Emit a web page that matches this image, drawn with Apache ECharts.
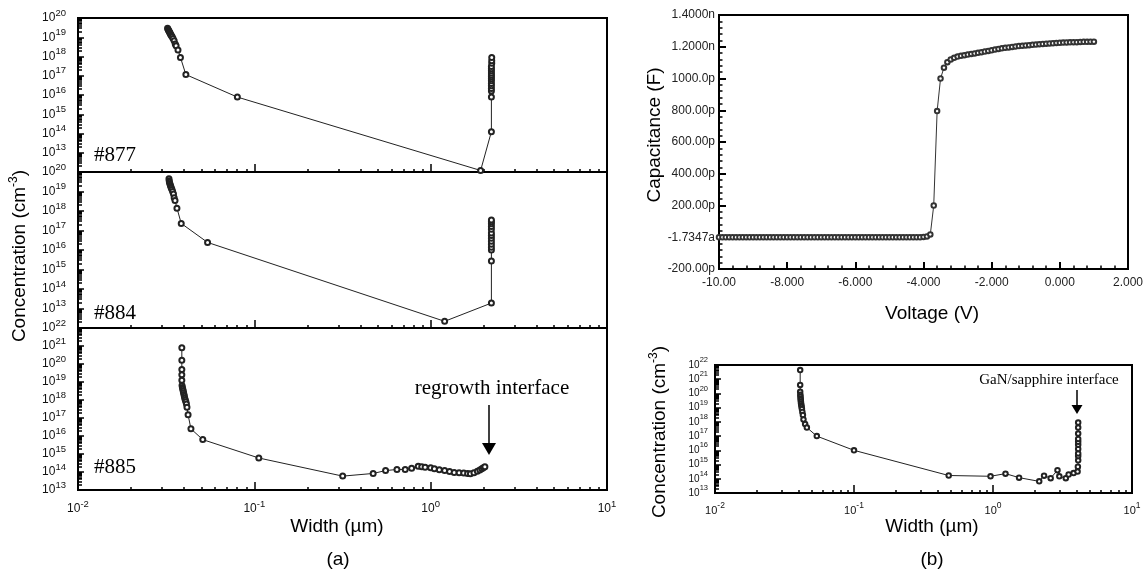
<!DOCTYPE html>
<html>
<head>
<meta charset="utf-8">
<script src="https://cdn.jsdelivr.net/npm/echarts@6.0.0/dist/echarts.min.js"></script>
<style>
  html, body { margin: 0; padding: 0; background: #fff; }
  #main { width: 1148px; height: 576px; }
</style>
</head>
<body>
<div id="main"></div>
<script>
// ---------------- data ----------------
// (a) #877  width (um) / concentration (cm^-3)
var w877 = [0.0322, 0.0324, 0.0326, 0.0328, 0.0330, 0.0332, 0.0334, 0.0336, 0.0339, 0.0342, 0.0346, 0.0351, 0.0356, 0.0360, 0.0369, 0.0381, 0.0409, 0.0801, 1.92,
            2.21, 2.21, 2.21, 2.21, 2.21, 2.21, 2.21, 2.21, 2.21, 2.21, 2.21, 2.21, 2.21, 2.21, 2.22, 2.22, 2.22];
var n877 = [2.9e19, 2.6e19, 2.3e19, 2.1e19, 1.9e19, 1.7e19, 1.5e19, 1.35e19, 1.2e19, 1.05e19, 8.5e18, 6.6e18, 4.5e18, 3.6e18, 2.2e18, 9e17, 1.15e17, 7.8e15, 1.2e12,
            1.25e14, 7.8e15, 1.6e16, 2.2e16, 3e16, 4e16, 5.5e16, 7e16, 9e16, 1.1e17, 1.4e17, 1.8e17, 2.3e17, 3e17, 4.5e17, 6e17, 9e17];
// (a) #884
var w884 = [0.0328, 0.0329, 0.0330, 0.0332, 0.0334, 0.0336, 0.0338, 0.0341, 0.0344, 0.0348, 0.0351, 0.0355, 0.0364, 0.0385, 0.0543, 1.20,
            2.21, 2.21, 2.21, 2.21, 2.21, 2.21, 2.21, 2.21, 2.21, 2.21, 2.21, 2.21, 2.21, 2.21];
var n884 = [4.5e19, 3.6e19, 3.0e19, 2.5e19, 2.1e19, 1.8e19, 1.5e19, 1.25e19, 1.0e19, 7.5e18, 4.8e18, 3.5e18, 1.4e18, 2.3e17, 2.45e16, 2.2e12,
            1.9e13, 2.7e15, 1e16, 1.4e16, 2e16, 2.8e16, 4e16, 5.5e16, 7.5e16, 1.15e17, 1.6e17, 2.2e17, 2.8e17, 3.5e17];
// (a) #885
var w885 = [0.0388, 0.0388, 0.0388, 0.0388, 0.0388, 0.0389, 0.0391, 0.0393, 0.0395, 0.0397, 0.0399, 0.0401, 0.0403, 0.0406, 0.0409, 0.0412, 0.0415, 0.0421, 0.0437,
            0.051, 0.106, 0.317, 0.472, 0.555, 0.644, 0.717, 0.78, 0.85, 0.89, 0.93, 1.0, 1.05, 1.12, 1.2, 1.28, 1.36, 1.45, 1.54, 1.62, 1.68, 1.76, 1.84, 1.90, 1.95, 1.99, 2.03];
var n885 = [8e20, 1.6e20, 5e19, 2.5e19, 1.26e19, 6.3e18, 5e18, 4e18, 3.2e18, 2.5e18, 2e18, 1.6e18, 1.25e18, 1e18, 8e17, 6e17, 4e17, 1.5e17, 2.5e16,
            6.3e15, 6e14, 5.9e13, 8.3e13, 1.2e14, 1.38e14, 1.38e14, 1.6e14, 2.1e14, 1.95e14, 1.85e14, 1.7e14, 1.5e14, 1.35e14, 1.2e14, 1.05e14, 9.5e13, 9e13, 8.7e13, 8.3e13, 7.9e13, 9e13, 1.1e14, 1.3e14, 1.5e14, 1.7e14, 1.95e14];
// (b) C-V : voltage (V) / capacitance (pF)
var cvVolt = [
  -10.0, -9.9, -9.8, -9.7, -9.6, -9.5, -9.4, -9.3, -9.2, -9.1,
  -9.0, -8.9, -8.8, -8.7, -8.6, -8.5, -8.4, -8.3, -8.2, -8.1,
  -8.0, -7.9, -7.8, -7.7, -7.6, -7.5, -7.4, -7.3, -7.2, -7.1,
  -7.0, -6.9, -6.8, -6.7, -6.6, -6.5, -6.4, -6.3, -6.2, -6.1,
  -6.0, -5.9, -5.8, -5.7, -5.6, -5.5, -5.4, -5.3, -5.2, -5.1,
  -5.0, -4.9, -4.8, -4.7, -4.6, -4.5, -4.4, -4.3, -4.2, -4.1,
  -4.0, -3.9, -3.8, -3.7, -3.6, -3.5, -3.4, -3.3, -3.2, -3.1,
  -3.0, -2.9, -2.8, -2.7, -2.6, -2.5, -2.4, -2.3, -2.2, -2.1,
  -2.0, -1.9, -1.8, -1.7, -1.6, -1.5, -1.4, -1.3, -1.2, -1.1,
  -1.0, -0.9, -0.8, -0.7, -0.6, -0.5, -0.4, -0.3, -0.2, -0.1,
  0.0, 0.1, 0.2, 0.3, 0.4, 0.5, 0.6, 0.7, 0.8, 0.9,
  1.0];
var cvCap = [
  0, 0, 0, 0, 0, 0, 0, 0, 0, 0,
  0, 0, 0, 0, 0, 0, 0, 0, 0, 0,
  0, 0, 0, 0, 0, 0, 0, 0, 0, 0,
  0, 0, 0, 0, 0, 0, 0, 0, 0, 0,
  0, 0, 0, 0, 0, 0, 0, 0, 0, 0,
  0, 0, 0, 0, 0, 0, 0, 0, 0, 0,
  2, 5, 18, 200, 795, 1000, 1068, 1103, 1120, 1130,
  1138, 1143, 1147, 1151, 1155, 1158, 1162, 1166, 1170, 1174,
  1178, 1182, 1186, 1190, 1193, 1196, 1199, 1202, 1204, 1206,
  1208, 1210, 1212, 1214, 1216, 1218, 1219, 1221, 1222, 1224,
  1225, 1226, 1227, 1228, 1229, 1229, 1230, 1231, 1231, 1232,
  1232];
var cvXLabels = ['-10.00', '-8.000', '-6.000', '-4.000', '-2.000', '0.000', '2.000'];
var cvYLabels = ['-200.00p', '-1.7347a', '200.00p', '400.00p', '600.00p', '800.00p', '1000.0p', '1.2000n', '1.4000n'];
// (b) concentration profile
var wB = [0.0410, 0.0410, 0.0410, 0.0411, 0.0412, 0.0413, 0.0414, 0.0415, 0.0416, 0.0418, 0.0420, 0.0422, 0.0425, 0.0429, 0.0433, 0.0445, 0.0458, 0.054, 0.100,
          0.48, 0.96, 1.23, 1.54, 2.15, 2.33, 2.60, 2.91, 3.00, 3.34, 3.50, 3.80, 4.06, 4.08, 4.10, 4.10, 4.10, 4.10, 4.10, 4.10, 4.10, 4.10, 4.10, 4.10];
var nB = [4.4e21, 4e20, 1.3e20, 8e19, 6e19, 4.5e19, 3.5e19, 2.6e19, 2e19, 1.5e19, 1.1e19, 8e18, 5e18, 3e18, 1.5e18, 7e17, 4e17, 1e17, 1e16,
          1.7e14, 1.5e14, 2.3e14, 1.2e14, 6.6e13, 1.66e14, 1.1e14, 4e14, 1.5e14, 1.1e14, 2e14, 2.5e14, 3.2e14, 7e14, 2e15, 4e15, 6e15, 1.26e16, 2.5e16, 4e16, 6.3e16, 1.5e17, 4e17, 9e17];

// ---------------- helpers ----------------
function pairs(xs, ys) {
  var out = [];
  for (var i = 0; i < xs.length; i++) out.push([xs[i], ys[i]]);
  return out;
}
function decades(lo, hi) {
  var out = [];
  for (var e = lo; e <= hi; e++) out.push(Math.pow(10, e));
  return out;
}
function minors(lo, hi) {
  var out = [];
  for (var e = lo; e < hi; e++) for (var k = 2; k <= 9; k++) out.push(k * Math.pow(10, e));
  return out;
}
function supLabel(v) {
  var e = Math.round(Math.log(v) / Math.LN10);
  return '{b|10}{s|' + e + '}';
}
function supRich(size) {
  return {
    b: { fontSize: size, fontFamily: 'Liberation Sans', color: '#111', lineHeight: size + 8, verticalAlign: 'middle' },
    s: { fontSize: size - 2.5, fontFamily: 'Liberation Sans', color: '#111', lineHeight: size - 3, verticalAlign: 'top' }
  };
}
var TICK = { color: '#000', width: 1.5 };

// one log axis with long decade ticks + an overlaid one with short minor ticks
function logAxes(dim, gridIndex, lo, hi, labelVals, fontSize, labelMargin) {
  var pos = dim === 'x' ? 'bottom' : 'left';
  var major = {
    type: 'log', logBase: 10, gridIndex: gridIndex,
    min: Math.pow(10, lo), max: Math.pow(10, hi), position: pos,
    axisLine: { show: true, onZero: false, lineStyle: { color: '#000', width: 2 } },
    axisTick: { show: true, inside: true, length: dim === 'x' ? 8 : 6, lineStyle: TICK, customValues: decades(lo, hi) },
    axisLabel: labelVals ? {
      show: true, customValues: labelVals, formatter: supLabel, rich: supRich(fontSize), margin: labelMargin,
      showMinLabel: true, showMaxLabel: true, hideOverlap: false
    } : { show: false },
    splitLine: { show: false }
  };
  var minor = {
    type: 'log', logBase: 10, gridIndex: gridIndex,
    min: Math.pow(10, lo), max: Math.pow(10, hi), position: pos,
    axisLine: { show: false, onZero: false },
    axisTick: { show: true, inside: true, length: dim === 'x' ? 3 : 4, lineStyle: TICK, customValues: minors(lo, hi) },
    axisLabel: { show: false },
    splitLine: { show: false }
  };
  return [major, minor];
}

function profileSeries(name, xi, data, size) {
  return {
    name: name, type: 'line', xAxisIndex: xi, yAxisIndex: xi, data: data,
    symbol: 'emptyCircle', symbolSize: size, showSymbol: true, showAllSymbol: true,
    lineStyle: { color: '#222', width: 1 },
    itemStyle: { color: '#222', borderWidth: 1 },
    emphasis: { disabled: true }
  };
}

function arrow(x, y1, y2, head) {
  return {
    type: 'group', children: [
      { type: 'line', shape: { x1: x, y1: y1, x2: x, y2: y2 - head }, style: { stroke: '#000', lineWidth: 1.5 } },
      { type: 'polygon', shape: { points: [[x - head / 2 - 1, y2 - head], [x + head / 2 + 1, y2 - head], [x, y2]] }, style: { fill: '#000' } }
    ]
  };
}
function txt(x, y, text, font, align, rot) {
  return {
    type: 'text', x: x, y: y, rotation: rot || 0,
    style: { text: text, font: font, fill: '#000', textAlign: align || 'center', textVerticalAlign: 'middle' }
  };
}
function concTitle(x, y, size) {
  return {
    type: 'text', x: x, y: y, rotation: Math.PI / 2,
    style: {
      text: '{t|Concentration (cm}{s|-3}{t|)}', fill: '#000', textAlign: 'center', textVerticalAlign: 'middle',
      rich: {
        t: { fontSize: size, fontFamily: 'Liberation Sans', lineHeight: size + 6, verticalAlign: 'middle' },
        s: { fontSize: size - 7, fontFamily: 'Liberation Sans', lineHeight: size - 7, verticalAlign: 'top' }
      }
    }
  };
}

// ---------------- layout ----------------
var grids = [
  { left: 78, top: 18, width: 529, height: 154 },   // #877
  { left: 78, top: 172, width: 529, height: 156 },  // #884
  { left: 78, top: 328, width: 529, height: 162 },  // #885
  { left: 719, top: 15, width: 409, height: 254 },  // C-V
  { left: 715, top: 365, width: 417, height: 128 }  // (b) profile
];
grids.forEach(function (g) {
  g.show = true; g.borderColor = '#000'; g.borderWidth = 2; g.backgroundColor = 'transparent'; g.containLabel = false;
});

var xAxes = [], yAxes = [];
xAxes = xAxes.concat(logAxes('x', 0, -2, 1, null));
yAxes = yAxes.concat(logAxes('y', 0, 12, 20, decades(13, 20), 12, 12));
xAxes = xAxes.concat(logAxes('x', 1, -2, 1, null));
yAxes = yAxes.concat(logAxes('y', 1, 12, 20, decades(13, 20), 12, 12));
xAxes = xAxes.concat(logAxes('x', 2, -2, 1, decades(-2, 1), 12, 9));
yAxes = yAxes.concat(logAxes('y', 2, 13, 22, decades(13, 22), 12, 12));

// C-V axes (index 6)
xAxes.push({
  type: 'value', gridIndex: 3, min: -10, max: 2, interval: 2, position: 'bottom',
  axisLine: { onZero: false, lineStyle: { color: '#000', width: 2 } },
  axisTick: { inside: true, length: 7, lineStyle: { color: '#000', width: 2 } },
  minorTick: { show: true, splitNumber: 5, length: 3.5, lineStyle: TICK },
  axisLabel: {
    fontSize: 12, fontFamily: 'Liberation Sans', color: '#222', margin: 8,
    formatter: function (v) { return cvXLabels[Math.round((v + 10) / 2)]; }
  },
  splitLine: { show: false }
});
yAxes.push({
  type: 'value', gridIndex: 3, min: -200, max: 1400, interval: 200, position: 'left',
  axisLine: { onZero: false, lineStyle: { color: '#000', width: 2 } },
  axisTick: { inside: true, length: 7, lineStyle: { color: '#000', width: 2 } },
  minorTick: { show: true, splitNumber: 5, length: 3.5, lineStyle: TICK },
  axisLabel: {
    fontSize: 12, fontFamily: 'Liberation Sans', color: '#222', margin: 4,
    formatter: function (v) { return cvYLabels[Math.round((v + 200) / 200)]; }
  },
  splitLine: { show: false }
});

// (b) profile axes (index 7, 8)
xAxes = xAxes.concat(logAxes('x', 4, -2, 1, decades(-2, 1), 11, 8));
yAxes = yAxes.concat(logAxes('y', 4, 13, 22, decades(13, 22), 10, 7));

var option = {
  animation: false,
  backgroundColor: '#fff',
  textStyle: { fontFamily: 'Liberation Sans' },
  grid: grids,
  xAxis: xAxes,
  yAxis: yAxes,
  series: [
    profileSeries('#877', 0, pairs(w877, n877), 5),
    profileSeries('#884', 2, pairs(w884, n884), 5),
    profileSeries('#885', 4, pairs(w885, n885), 5),
    {
      name: 'C-V', type: 'line', xAxisIndex: 6, yAxisIndex: 6, data: pairs(cvVolt, cvCap),
      symbol: 'emptyCircle', symbolSize: 4.5, showSymbol: true, showAllSymbol: true,
      lineStyle: { color: '#333', width: 1 },
      itemStyle: { color: '#333', borderWidth: 1 },
      emphasis: { disabled: true }
    },
    profileSeries('(b)', 7, pairs(wB, nB), 4.5)
  ],
  graphic: [
    txt(94, 155, '#877', '21px "Liberation Serif"', 'left'),
    txt(94, 313, '#884', '21px "Liberation Serif"', 'left'),
    txt(94, 467, '#885', '21px "Liberation Serif"', 'left'),
    txt(492, 388, 'regrowth interface', '21px "Liberation Serif"', 'center'),
    arrow(489, 405, 455, 12),
    txt(1049, 380, 'GaN/sapphire interface', '15px "Liberation Serif"', 'center'),
    arrow(1077, 390, 414, 9),
    concTitle(20, 256, 19),
    txt(337, 527, 'Width (\u00b5m)', '19px "Liberation Sans"'),
    txt(338, 560, '(a)', '19px "Liberation Sans"'),
    txt(655, 135, 'Capacitance (F)', '19px "Liberation Sans"', 'center', Math.PI / 2),
    txt(932, 314, 'Voltage (V)', '19px "Liberation Sans"'),
    concTitle(660, 432, 19),
    txt(932, 527, 'Width (\u00b5m)', '19px "Liberation Sans"'),
    txt(932, 560, '(b)', '19px "Liberation Sans"')
  ]
};

var chart = echarts.init(document.getElementById('main'));
chart.setOption(option);
</script>
</body>
</html>
